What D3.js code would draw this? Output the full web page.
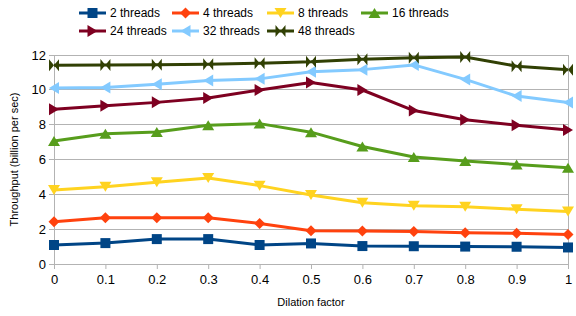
<!DOCTYPE html>
<html lang="en">
<head>
<meta charset="UTF-8">
<title>Throughput vs dilation factor</title>
<style>
    body { margin: 0; background: #fff; font-family: "Liberation Sans", Arial, sans-serif; }
    svg text { fill: #000; }
</style>
</head>
<body>
<svg id="chart" width="576" height="316"></svg>
<script src="https://d3js.org/d3.v7.min.js"></script>
<script>
// data
const dilation = [0, 0.1, 0.2, 0.3, 0.4, 0.5, 0.6, 0.7, 0.8, 0.9, 1];
const seriesNames = ["2 threads", "4 threads", "8 threads", "16 threads", "24 threads", "32 threads", "48 threads"];
const threads2  = [1.09, 1.2, 1.43, 1.43, 1.09, 1.18, 1.03, 1.02, 1.0, 0.99, 0.95];
const threads4  = [2.43, 2.66, 2.66, 2.66, 2.33, 1.91, 1.9, 1.86, 1.8, 1.76, 1.7];
const threads8  = [4.25, 4.44, 4.7, 4.94, 4.5, 3.96, 3.52, 3.35, 3.29, 3.14, 3.02];
const threads16 = [7.06, 7.48, 7.58, 7.97, 8.06, 7.57, 6.75, 6.14, 5.91, 5.71, 5.53];
const threads24 = [8.88, 9.08, 9.28, 9.53, 9.99, 10.42, 9.99, 8.81, 8.28, 7.97, 7.7];
const threads32 = [10.1, 10.14, 10.32, 10.54, 10.63, 11.04, 11.16, 11.43, 10.6, 9.64, 9.27];
const threads48 = [11.41, 11.43, 11.44, 11.47, 11.53, 11.61, 11.76, 11.84, 11.88, 11.36, 11.15];
const yTicks = [0, 2, 4, 6, 8, 10, 12];
const xTicks = dilation;

const allSeries = [threads2, threads4, threads8, threads16, threads24, threads32, threads48];
const colors = ["#004586", "#ff420e", "#ffd320", "#579d1c", "#7e0021", "#83caff", "#314004"];

// marker shapes, centred on 0,0
const markers = [
    "M-5,-5L5,-5L5,5L-5,5Z",                 // square
    "M0,-5.5L5.5,0L0,5.5L-5.5,0Z",           // diamond
    "M-6,-5L6,-5L0,5Z",                      // down triangle
    "M-6,5L6,5L0,-5Z",                       // up triangle
    "M-5,-6L-5,6L5,0Z",                      // right triangle
    "M5,-6L5,6L-5,0Z",                       // left triangle
    "M-5,-6L0,0L-5,6ZM5,-6L0,0L5,6Z"         // bowtie
];

const svg = d3.select("#chart");
const margin = { top: 55, right: 8, bottom: 52, left: 54 };
const width = 576 - margin.left - margin.right;
const height = 316 - margin.top - margin.bottom;

const x = d3.scaleLinear().domain([0, 1]).range([0, width]);
const y = d3.scaleLinear().domain([0, 12]).range([height, 0]);

const g = svg.append("g").attr("transform", `translate(${margin.left},${margin.top})`);

// gridlines with short ticks on the left
g.selectAll(".grid")
    .data(yTicks)
    .enter().append("line")
    .attr("x1", -5).attr("x2", width)
    .attr("y1", d => y(d)).attr("y2", d => y(d))
    .attr("stroke", "#b3b3b3").attr("stroke-width", 1)
    .attr("shape-rendering", "crispEdges");

// frame sides
g.append("line").attr("x1", 0).attr("x2", 0).attr("y1", 0).attr("y2", height)
    .attr("stroke", "#b3b3b3").attr("shape-rendering", "crispEdges");
g.append("line").attr("x1", width).attr("x2", width).attr("y1", 0).attr("y2", height)
    .attr("stroke", "#b3b3b3").attr("shape-rendering", "crispEdges");

// y tick labels
g.selectAll(".ylab")
    .data(yTicks)
    .enter().append("text")
    .attr("x", -8).attr("y", d => y(d))
    .attr("dy", "0.35em")
    .attr("text-anchor", "end")
    .attr("font-size", 13)
    .text(d => d);

// x axis
const xAxis = g.append("g")
    .attr("transform", `translate(0,${height})`)
    .call(d3.axisBottom(x).tickValues(xTicks).tickSize(5).tickPadding(6).tickFormat(d => d3.format("")(+d.toFixed(1))));
xAxis.select(".domain").attr("stroke", "#b3b3b3");
xAxis.selectAll(".tick line").attr("stroke", "#b3b3b3");
xAxis.selectAll(".tick text").attr("font-size", 13).attr("font-family", "Liberation Sans, Arial, sans-serif");

// axis titles
svg.append("text")
    .attr("x", margin.left + width / 2).attr("y", 306)
    .attr("text-anchor", "middle").attr("font-size", 11)
    .text("Dilation factor");
svg.append("text")
    .attr("transform", `translate(18,${margin.top + height / 2}) rotate(-90)`)
    .attr("text-anchor", "middle").attr("font-size", 11)
    .text("Throughput (billion per sec)");

// series lines and markers
const line = d3.line().x((d, i) => x(dilation[i])).y(d => y(d));
allSeries.forEach((vals, s) => {
    g.append("path")
        .datum(vals)
        .attr("fill", "none")
        .attr("stroke", colors[s])
        .attr("stroke-width", 3)
        .attr("stroke-linejoin", "round")
        .attr("d", line);
    g.selectAll(".m" + s)
        .data(vals)
        .enter().append("path")
        .attr("transform", (d, i) => `translate(${x(dilation[i])},${y(d)})`)
        .attr("d", markers[s])
        .attr("fill", colors[s]);
});

// legend
const legendX = [79, 172, 267, 361];
const legendY = [13, 31];
seriesNames.forEach((name, s) => {
    const lx = legendX[s % 4];
    const ly = legendY[Math.floor(s / 4)];
    const lg = svg.append("g").attr("transform", `translate(${lx},${ly})`);
    lg.append("line").attr("x1", 0).attr("x2", 27).attr("y1", 0).attr("y2", 0)
        .attr("stroke", colors[s]).attr("stroke-width", 3);
    lg.append("path").attr("transform", "translate(13.5,0)").attr("d", markers[s]).attr("fill", colors[s]);
    lg.append("text").attr("x", 31).attr("y", 0).attr("dy", "0.35em")
        .attr("font-size", 12).text(name);
});
</script>
</body>
</html>
